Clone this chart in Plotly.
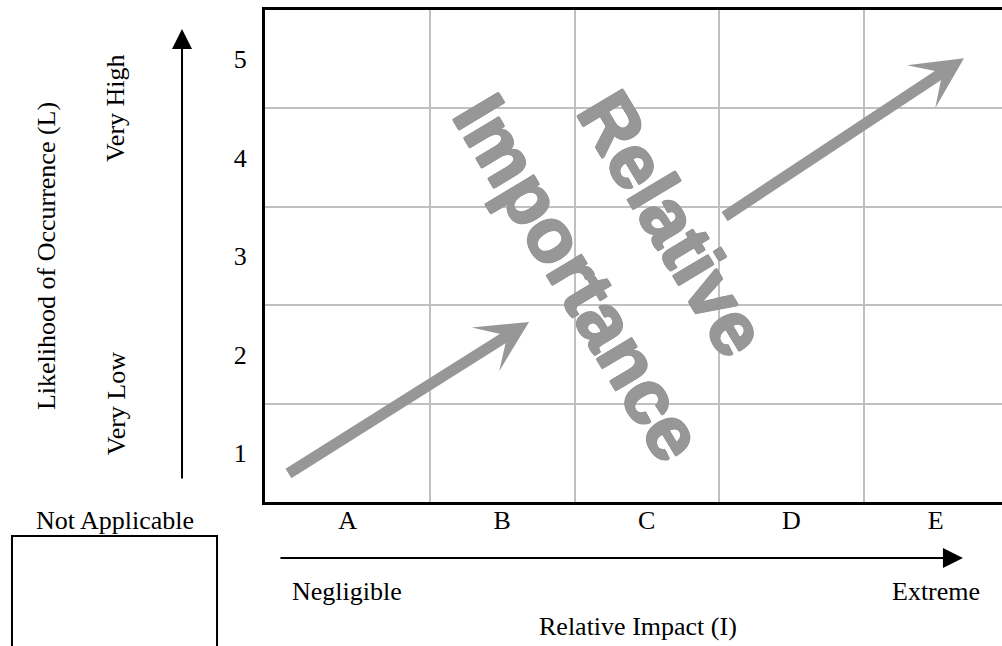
import plotly.graph_objects as go

# ---- data ----
impact_levels = ["A", "B", "C", "D", "E"]
likelihood_levels = [1, 2, 3, 4, 5]
x_range = [0.358, 5.458]
y_range = [0.5, 5.5]
impact_positions = [(x_range[0] + 1.5) / 2, 2, 3, 4, 5]
col_bounds = [1.5, 2.5, 3.5, 4.5]
row_bounds = [1.5, 2.5, 3.5, 4.5]

# gray trend arrows: (tail_x, tail_y, tip_x, tip_y) in grid units
arrow_low = [0.51, 0.78, 2.185, 2.33]
arrow_high = [3.528, 3.39, 5.195, 5.01]

# watermark words: (text, x, y)
word_relative = ["Relative", 3.18, 3.33]
word_importance = ["Importance", 2.53, 2.78]

GRAY = "#979797"
SERIF = "Liberation Serif, Times New Roman, serif"
THICK = ", ".join(f"{dx}px {dy}px 0 {GRAY}" for dx, dy in
                  [(1, 0), (-1, 0), (0, 1), (0, -1), (1, 1), (-1, -1), (1, -1), (-1, 1)])

fig = go.Figure()
fig.add_trace(go.Scatter(x=[None], y=[None], mode="markers", showlegend=False, hoverinfo="skip"))

fig.update_layout(
    width=1002, height=646,
    margin=dict(l=265, r=0, t=10, b=144),
    paper_bgcolor="white", plot_bgcolor="white",
    showlegend=False,
    font=dict(family=SERIF, size=26, color="black"),
    xaxis=dict(
        range=x_range, tickmode="array", tickvals=impact_positions, ticktext=impact_levels,
        showgrid=False, zeroline=False, showline=True, linecolor="black", linewidth=3,
        mirror=True, ticks="", ticklabelstandoff=-7,
        minor=dict(tickmode="array", tickvals=col_bounds, showgrid=True,
                   gridcolor="#c0c0c0", gridwidth=2, ticklen=0),
        fixedrange=True,
    ),
    yaxis=dict(
        range=y_range, tickmode="array", tickvals=likelihood_levels,
        ticktext=[str(v) for v in likelihood_levels],
        showgrid=False, zeroline=False, showline=True, linecolor="black", linewidth=3,
        mirror=False, ticks="", ticklabelstandoff=10,
        minor=dict(tickmode="array", tickvals=row_bounds, showgrid=True,
                   gridcolor="#c0c0c0", gridwidth=2, ticklen=0),
        fixedrange=True,
    ),
)

annotations = []
# gray arrows
for a in (arrow_low, arrow_high):
    annotations.append(dict(
        x=a[2], y=a[3], ax=a[0], ay=a[1], xref="x", yref="y", axref="x", ayref="y",
        text="", showarrow=True, arrowhead=3, arrowwidth=11, arrowsize=0.78,
        arrowcolor=GRAY, standoff=0, startstandoff=0,
    ))
# watermark words
for w in (word_relative, word_importance):
    annotations.append(dict(
        x=w[1], y=w[2], xref="x", yref="y", text=w[0], showarrow=False,
        textangle=59, font=dict(family="Liberation Sans, Arial, sans-serif", size=76,
                                color=GRAY, weight="bold", shadow=THICK),
        xanchor="center", yanchor="middle",
    ))

# black axis arrows (paper coords, pixel offsets)
annotations.append(dict(x=0.947, y=-0.1138, xref="paper", yref="paper", ax=-684, ay=0,
                        text="", showarrow=True, arrowhead=2, arrowwidth=2, arrowsize=2,
                        arrowcolor="black", standoff=0))
annotations.append(dict(x=-0.1126, y=0.9614, xref="paper", yref="paper", ax=0, ay=451,
                        text="", showarrow=True, arrowhead=2, arrowwidth=2, arrowsize=2,
                        arrowcolor="black", standoff=0))

# texts
def txt(t, x, y, angle=0, xanchor="center"):
    annotations.append(dict(x=x, y=y, xref="paper", yref="paper", text=t, showarrow=False,
                            textangle=angle, xanchor=xanchor, yanchor="middle",
                            font=dict(family=SERIF, size=26, color="black")))

txt("Likelihood of Occurrence (L)", -0.297, 0.5, -90)
txt("Very High", -0.202, 0.801, -90)
txt("Very Low", -0.202, 0.199, -90)
txt("Not Applicable", -0.2035, -0.0366)
txt("Negligible", (290 - 265) / 737, -0.181, xanchor="left")
txt("Extreme", (982 - 265) / 737, -0.181, xanchor="right")
txt("Relative Impact (I)", (638 - 265) / 737, -0.254)

fig.update_layout(annotations=annotations)

# Not Applicable box (extends below the page)
fig.add_shape(type="rect", xref="paper", yref="paper",
              x0=-0.3433, x1=-0.0651, y0=-0.402, y1=-0.0691,
              line=dict(color="black", width=2), fillcolor="rgba(0,0,0,0)")

fig.write_html("out.html", config={"displayModeBar": False, "staticPlot": True},
               post_script="document.body.style.margin='0';document.body.style.overflow='hidden';")
